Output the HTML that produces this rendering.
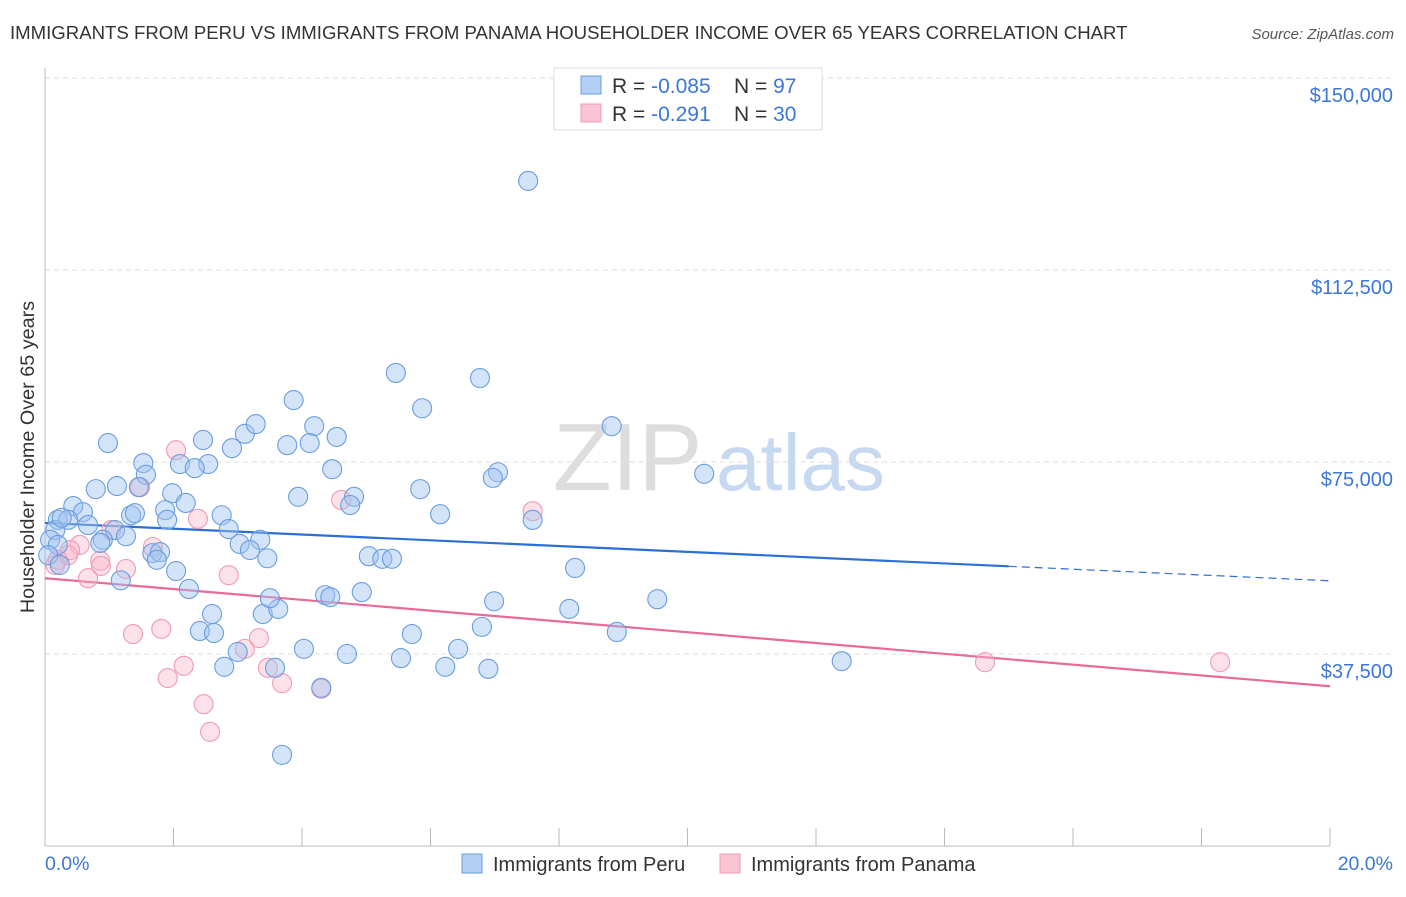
<!DOCTYPE html>
<html><head><meta charset="utf-8"><style>
body{margin:0;background:#fff;font-family:"Liberation Sans",sans-serif;}
svg text{font-family:"Liberation Sans",sans-serif;}
</style></head><body>
<svg id="chart" width="1406" height="892" viewBox="0 0 1406 892">
<text x="10" y="39" font-size="18.6" fill="#333">IMMIGRANTS FROM PERU VS IMMIGRANTS FROM PANAMA HOUSEHOLDER INCOME OVER 65 YEARS CORRELATION CHART</text>
<text x="1394" y="39" font-size="15" fill="#555" font-style="italic" text-anchor="end">Source: ZipAtlas.com</text>
<g>
<text x="553" y="490" font-size="96" fill="#ddd" font-family="Liberation Serif">ZIP</text>
<text x="716" y="490" font-size="80" fill="#c6d9f0">atlas</text>
</g>
<g id="grid"></g>
<g id="axes"></g>
<g id="trend"></g>
<g id="pts"></g>
<g>
<rect x="554" y="68" width="268" height="62" fill="#fff" stroke="#ddd"/>
<rect x="581" y="76" width="20" height="18" fill="#b3cff3" stroke="#6a9de0"/>
<rect x="581" y="104" width="20" height="18" fill="#f8c4d4" stroke="#ef9ab5"/>
<text x="612" y="93" font-size="21" fill="#333">R = <tspan fill="#3b78d8">-0.085</tspan></text>
<text x="734" y="93" font-size="21" fill="#333">N = <tspan fill="#3b78d8"> 97</tspan></text>
<text x="612" y="121" font-size="21" fill="#333">R = <tspan fill="#3b78d8"> -0.291</tspan></text>
<text x="734" y="121" font-size="21" fill="#333">N = <tspan fill="#3b78d8">30</tspan></text>
</g>
<g>
<rect x="462" y="854" width="20" height="19" fill="#b3cff3" stroke="#6a9de0"/>
<text x="493" y="871" font-size="20" fill="#333">Immigrants from Peru</text>
<rect x="720" y="854" width="20" height="19" fill="#f8c4d4" stroke="#ef9ab5"/>
<text x="751" y="871" font-size="20" fill="#333">Immigrants from Panama</text>
</g>
<text x="45" y="870" font-size="19.5" fill="#3b78d8">0.0%</text>
<text x="1393" y="870" font-size="19.5" fill="#3b78d8" text-anchor="end">20.0%</text>
<text transform="translate(34,457) rotate(-90)" font-size="19.8" fill="#333" text-anchor="middle">Householder Income Over 65 years</text>
</svg>
<script>
const yTicks=[150000,112500,75000,37500];
const yTickLabels=["$150,000","$112,500","$75,000","$37,500"];
const xTicks=[0,2,4,6,8,10,12,14,16,18,20];
const peruX=[7.52,5.46,6.77,5.87,3.87,8.82,0.98,4.19,4.54,2.46,3.77,4.12,3.11,3.28,2.91,1.53,2.10,2.54,2.33,1.57,4.47,7.05,6.97,10.26,0.79,1.12,1.46,1.98,5.84,3.94,4.81,4.75,2.19,0.44,0.59,0.20,0.36,1.87,2.75,6.15,7.59,1.34,1.40,1.90,0.67,1.09,2.86,0.16,0.90,1.26,0.86,3.03,3.35,3.19,1.67,1.79,1.74,3.46,5.04,5.25,5.40,8.25,2.04,1.18,2.24,4.93,4.36,4.44,2.60,3.39,3.63,6.99,8.16,9.53,3.50,6.80,2.41,2.63,5.71,8.90,4.03,4.70,6.43,3.00,5.54,12.40,2.79,3.58,6.23,6.90,4.30,3.69,0.08,0.20,0.05,0.23,0.26];
const peruY=[129.9,92.4,91.4,85.5,87.1,82.0,78.7,82.0,79.9,79.3,78.3,78.7,80.5,82.4,77.7,74.8,74.6,74.6,73.8,72.5,73.6,73.0,71.9,72.7,69.7,70.3,70.1,68.9,69.7,68.2,68.2,66.6,67.0,66.4,65.2,63.7,63.7,65.6,64.6,64.8,63.7,64.6,65.0,63.7,62.7,61.7,61.9,61.7,59.8,60.5,59.2,59.0,59.8,57.8,57.2,57.4,55.9,56.2,56.6,56.1,56.1,54.3,53.7,51.9,50.2,49.6,49.0,48.6,45.3,45.3,46.3,47.8,46.3,48.2,48.4,42.8,42.0,41.6,41.4,41.8,38.5,37.5,38.5,37.9,36.7,36.1,35.0,34.8,35.0,34.6,30.9,17.8,59.8,58.8,56.8,54.9,64.1];
const panamaX=[2.04,1.48,2.38,1.03,1.68,0.54,0.36,0.86,0.20,0.87,1.26,0.67,2.86,4.61,7.59,1.37,1.81,2.16,1.91,2.47,2.57,3.11,3.33,3.47,3.69,4.30,14.63,18.29,0.16,0.39];
const panamaY=[77.3,70.1,63.9,61.7,58.4,58.8,56.8,55.7,55.9,54.7,54.1,52.3,52.9,67.6,65.4,41.4,42.4,35.2,32.8,27.7,22.3,38.5,40.6,34.8,31.8,30.7,35.9,35.9,54.9,57.8];
const peruTrend=[63.1,51.8];
const panamaTrend=[52.3,31.2];
const peruSolidEnd=15.0;
const NS="http://www.w3.org/2000/svg";
const X0=45,X1=1330,Y0=846;
function sx(v){return X0+(v/20)*(X1-X0);}
function sy(v){return Y0-(v/37500)*192;}
function syk(v){return sy(v*1000);}
function mk(tag,attrs,parent){const e=document.createElementNS(NS,tag);for(const k in attrs)e.setAttribute(k,attrs[k]);parent.appendChild(e);return e;}
const grid=document.getElementById('grid'),axes=document.getElementById('axes'),trend=document.getElementById('trend'),pts=document.getElementById('pts');
yTicks.forEach((t,i)=>{
 const l=mk('line',{x1:X0,x2:1395,y1:sy(t),y2:sy(t),stroke:'#ddd','stroke-dasharray':'5,4'},grid);
 
 
 const tx=mk('text',{x:1393,y:sy(t)+24,'font-size':20,fill:'#3b78d8','text-anchor':'end'},grid);
 tx.textContent=yTickLabels[i];
 
 
});
const ya=mk('line',{x1:X0,x2:X0,y1:68,y2:Y0,stroke:'#bbb'},axes);


const xa=mk('line',{x1:X0,x2:X1,y1:Y0,y2:Y0,stroke:'#bbb'},axes);


xTicks.forEach(t=>{
 const l=mk('line',{x1:sx(t),x2:sx(t),y1:828,y2:Y0,stroke:'#bbb'},axes);
 
 
});
function dot(x,y,fill,stroke,name){
 const c=mk('circle',{cx:sx(x),cy:syk(y),r:9.5,fill:fill,stroke:stroke,'stroke-width':1.1},pts);
 
 
}
panamaX.forEach((x,i)=>dot(x,panamaY[i],'rgba(248,180,200,0.4)','#f09ab5','panama-point'));
peruX.forEach((x,i)=>dot(x,peruY[i],'rgba(160,196,240,0.45)','#6a9de0','peru-point'));
function lerp(a,t){return a[0]+(a[1]-a[0])*t/20;}
const p1=mk('line',{x1:sx(0),y1:syk(lerp(peruTrend,0)),x2:sx(peruSolidEnd),y2:syk(lerp(peruTrend,peruSolidEnd)),stroke:'#2c6fd6','stroke-width':2.2},trend);


const p2=mk('line',{x1:sx(peruSolidEnd),y1:syk(lerp(peruTrend,peruSolidEnd)),x2:sx(20),y2:syk(lerp(peruTrend,20)),stroke:'#2c6fd6','stroke-width':1.2,'stroke-dasharray':'8,5'},trend);


const p3=mk('line',{x1:sx(0),y1:syk(lerp(panamaTrend,0)),x2:sx(20),y2:syk(lerp(panamaTrend,20)),stroke:'#e8699a','stroke-width':2.2},trend);


</script>
</body></html>
